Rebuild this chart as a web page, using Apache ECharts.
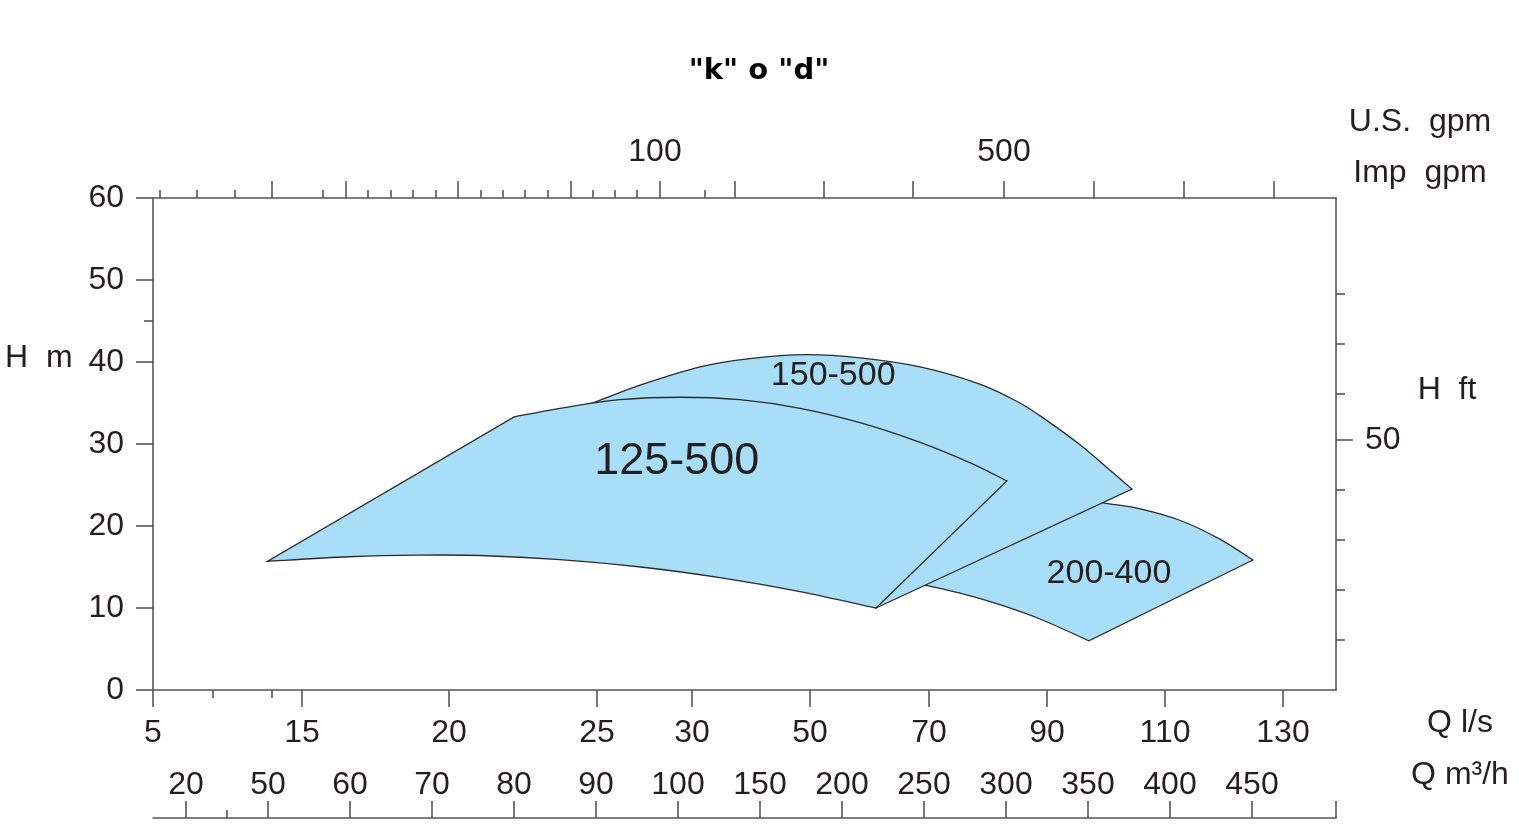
<!DOCTYPE html>
<html>
<head>
<meta charset="utf-8">
<script src="https://cdn.jsdelivr.net/npm/echarts@6.0.0/dist/echarts.min.js"></script>
<style>
html,body{margin:0;padding:0;background:#fff;}
#chart{width:1519px;height:830px;}
</style>
</head>
<body>
<div id="chart"></div>
<script>
// ---------- data (Q in l/s, H in m); each region = list of curved edges, joined by straight edges ----------
const top125 = [[22.2,33.3],[23.75,34.35],[26.2,35.4],[29.4,35.7],[38.1,35.4],[48.3,34.35],[58.4,32.6],[68.5,30.2],[77.0,27.7],[83.2,25.5]];
const bottom125 = [[61.1,10.0],[48.3,12.0],[34.75,13.7],[27.3,15.0],[23.75,15.9],[21.05,16.4],[19.0,16.45],[16.6,16.25],[12.7,15.7]];
const top150 = [[104.4,24.5],[100.7,26.8],[95.6,29.9],[90.3,32.7],[85.4,35.0],[78.6,37.3],[68.5,39.4],[58.4,40.5],[49.2,40.9],[39.8,40.4],[31.4,39.4],[27.3,37.2],[25.0,35.2],[23.75,33.7]];
const corner150 = [[61.1,10.0]];
const top200 = [[92.2,23.8],[99.8,22.8],[105.8,22.1],[112.5,20.7],[119.3,18.4],[124.9,15.85]];
const bottom200 = [[97.1,6.0],[88.8,8.66],[82.0,10.4],[75.25,11.8],[69.3,12.8],[61.8,13.7]];
const regionNames = ['125-500','150-500','200-400'];
const regionLabelAt = [[29.2,27.8],[53.9,38.3],[100.5,14.15]];

// ---------- axis tick labels ----------
const lsTicks = [5,15,20,25,30,50,70,90,110,130];
const m3Labels = ['20','50','60','70','80','90','100','150','200','250','300','350','400','450'];
const gpmLabels = ['100','500'];
const hmTicks = [0,10,20,30,40,50,60];
const hmMinor = [45];
const ftShort = [20,40,60,80,118.5,138.5,158.5];
const ftMajor = [100];
const ftLabel = '50';

// ---------- scale definition (axis units along the Q axis) ----------
const AXIS_LEN = 1183;
const lsTickAt = [0,149,296,444,539,657,776,894,1012,1130];
const lsMinorAt = [60,119];
const m3TickAt = [33,115,197,279,361,443,525,607,689,771,853,935,1017,1099];
const m3MinorAt = [74];
const gpmMajorAt = [119,193,305,418,507,582,671,760,851,941,1031,1121];
const gpmMinorAt = [7,44,82,170,215,238,260,283,328,350,372,395,440,462,484,552];
const gpmLabelAt = [502,851];

function lsToAxis(q){
  for (let i=0;i<lsTicks.length-1;i++){
    if (q<=lsTicks[i+1] || i===lsTicks.length-2){
      const t=(q-lsTicks[i])/(lsTicks[i+1]-lsTicks[i]);
      return lsTickAt[i]+t*(lsTickAt[i+1]-lsTickAt[i]);
    }
  }
}

const FONT = '"Liberation Sans", Arial, sans-serif';
const TXT = '#231f20';
const AX = '#555555';
const FILL = '#a8def7';
const STROKE = '#2b2b2b';
const GRID = {left:153,top:198,width:AXIS_LEN,height:492,containLabel:false,outerBoundsMode:'none'};

function lookup(at, labels){ const m={}; at.forEach((v,i)=>m[v]=labels[i]); return v=>m[v]!==undefined?m[v]:''; }
const lineOn = {show:true,onZero:false,lineStyle:{color:AX,width:1.6}};
const lineOff = {show:false,onZero:false};
const tickStyle = {color:AX,width:1.6};
const lblStyle = {color:TXT,fontFamily:FONT,fontSize:32};

function xAx(o){
  return Object.assign({type:'value',min:0,max:AXIS_LEN,splitLine:{show:false},
    axisLine:lineOff,axisTick:{show:false},axisLabel:{show:false}}, o);
}
function yAx(o){
  return Object.assign({type:'value',splitLine:{show:false},
    axisLine:lineOff,axisTick:{show:false},axisLabel:{show:false}}, o);
}
const FT_MAX = 60/0.3048;

const xAxes = [
  // grid 0
  xAx({gridIndex:0,position:'bottom',axisLine:lineOn,
    axisTick:{show:true,length:17,lineStyle:tickStyle,customValues:lsTickAt},
    axisLabel:Object.assign({show:true,margin:27,customValues:lsTickAt,formatter:lookup(lsTickAt,lsTicks.map(String))},lblStyle)}),
  xAx({gridIndex:0,position:'top',axisLine:lineOn,
    axisTick:{show:true,length:17,lineStyle:tickStyle,customValues:gpmMajorAt},
    axisLabel:Object.assign({show:true,margin:30,customValues:gpmLabelAt,formatter:lookup(gpmLabelAt,gpmLabels)},lblStyle)}),
  // grid 1
  xAx({gridIndex:1,position:'bottom',axisTick:{show:true,length:8,lineStyle:tickStyle,customValues:lsMinorAt}}),
  xAx({gridIndex:1,position:'top',axisTick:{show:true,length:8,lineStyle:tickStyle,customValues:gpmMinorAt}}),
  // grid 2
  xAx({gridIndex:2,position:'bottom',offset:128,axisLine:lineOn,
    axisTick:{show:true,inside:true,length:17,lineStyle:tickStyle,customValues:m3TickAt.concat([AXIS_LEN])},
    axisLabel:Object.assign({show:true,inside:true,margin:17,customValues:m3TickAt,formatter:lookup(m3TickAt,m3Labels)},lblStyle)}),
  // grid 3
  xAx({gridIndex:3,position:'bottom',offset:128,axisTick:{show:true,inside:true,length:8,lineStyle:tickStyle,customValues:m3MinorAt}})
];

const yAxes = [
  // grid 0
  yAx({gridIndex:0,position:'left',min:0,max:60,axisLine:lineOn,
    axisTick:{show:true,length:17,lineStyle:tickStyle,customValues:hmTicks},
    axisLabel:Object.assign({show:true,margin:29,customValues:hmTicks},lblStyle)}),
  yAx({gridIndex:0,position:'right',min:0,max:FT_MAX,axisLine:lineOn,
    axisTick:{show:true,length:9,lineStyle:tickStyle,customValues:ftShort}}),
  // grid 1
  yAx({gridIndex:1,position:'left',min:0,max:60,axisTick:{show:true,length:9,lineStyle:tickStyle,customValues:hmMinor}}),
  yAx({gridIndex:1,position:'right',min:0,max:FT_MAX,
    axisTick:{show:true,length:17,lineStyle:tickStyle,customValues:ftMajor},
    axisLabel:Object.assign({show:true,margin:29,customValues:ftMajor,formatter:()=>ftLabel},lblStyle)}),
  // grids 2,3 (hidden companions)
  yAx({gridIndex:2,position:'left',min:0,max:60,show:false}),
  yAx({gridIndex:3,position:'left',min:0,max:60,show:false})
];

// Build a closed outline: curved edges are drawn smoothly through their read points,
// consecutive edges are joined by straight lines.
function outlinePath(edges, api){
  let d = '';
  edges.forEach((edge, ei)=>{
    const p = edge.map(v=>api.coord([lsToAxis(v[0]),v[1]]));
    d += (ei===0 ? 'M' : 'L') + p[0][0].toFixed(2) + ' ' + p[0][1].toFixed(2) + ' ';
    for (let i=0;i<p.length-1;i++){
      const p0 = p[i-1] || p[i], p1 = p[i], p2 = p[i+1], p3 = p[i+2] || p[i+1];
      const c1 = [p1[0]+(p2[0]-p0[0])/6, p1[1]+(p2[1]-p0[1])/6];
      const c2 = [p2[0]-(p3[0]-p1[0])/6, p2[1]-(p3[1]-p1[1])/6];
      d += 'C' + c1[0].toFixed(2)+' '+c1[1].toFixed(2)+' '+c2[0].toFixed(2)+' '+c2[1].toFixed(2)+' '+p2[0].toFixed(2)+' '+p2[1].toFixed(2)+' ';
    }
  });
  return d + 'Z';
}

function regionSeries(name, edges, z){
  const all = [].concat.apply([], edges);
  return {
    type:'custom', name:name, z:z, xAxisIndex:0, yAxisIndex:0, clip:false,
    data: all.map(p=>[lsToAxis(p[0]),p[1]]),
    renderItem: function(params, api){
      if (params.dataIndex!==0) return null;
      return {type:'path',shape:{pathData:outlinePath(edges, api)},
        style:{fill:FILL,stroke:STROKE,lineWidth:1.3,lineJoin:'miter'}};
    }
  };
}

const labelSizes = [45,34,34];
const option = {
  animation:false,
  backgroundColor:'#ffffff',
  grid:[GRID,GRID,GRID,GRID],
  xAxis:xAxes,
  yAxis:yAxes,
  series:[
    regionSeries('200-400',[top200,bottom200],2),
    regionSeries('150-500',[corner150,top150],3),
    regionSeries('125-500',[top125,bottom125],4),
    {type:'custom',z:10,xAxisIndex:0,yAxisIndex:0,clip:false,
     data:regionLabelAt.map(p=>[lsToAxis(p[0]),p[1]]),
     renderItem:function(params, api){
       const i = params.dataIndex;
       const c = api.coord([api.value(0),api.value(1)]);
       return {type:'text',style:{text:regionNames[i],x:c[0],y:c[1],textAlign:'center',
         verticalAlign:'middle',textVerticalAlign:'middle',fill:TXT,
         font:labelSizes[i]+'px '+FONT}};
     }}
  ],
  graphic:[
    {type:'text',x:759,y:71,style:{text:'"k" o "d"',fill:'#000',font:'bold 29px "DejaVu Sans", sans-serif',textAlign:'center',textVerticalAlign:'middle'}},
    {type:'text',x:1420,y:122,style:{text:'U.S.  gpm',fill:TXT,font:'32px '+FONT,textAlign:'center',textVerticalAlign:'middle'}},
    {type:'text',x:1420,y:173,style:{text:'Imp  gpm',fill:TXT,font:'32px '+FONT,textAlign:'center',textVerticalAlign:'middle'}},
    {type:'text',x:5,y:358,style:{text:'H  m',fill:TXT,font:'32px '+FONT,textAlign:'left',textVerticalAlign:'middle'}},
    {type:'text',x:1447,y:390,style:{text:'H  ft',fill:TXT,font:'32px '+FONT,textAlign:'center',textVerticalAlign:'middle'}},
    {type:'text',x:1460,y:723,style:{text:'Q l/s',fill:TXT,font:'32px '+FONT,textAlign:'center',textVerticalAlign:'middle'}},
    {type:'text',x:1460,y:775,style:{text:'Q m³/h',fill:TXT,font:'32px '+FONT,textAlign:'center',textVerticalAlign:'middle'}}
  ]
};
const chart = echarts.init(document.getElementById('chart'),null,{renderer:'canvas'});
chart.setOption(option);
</script>
</body>
</html>
